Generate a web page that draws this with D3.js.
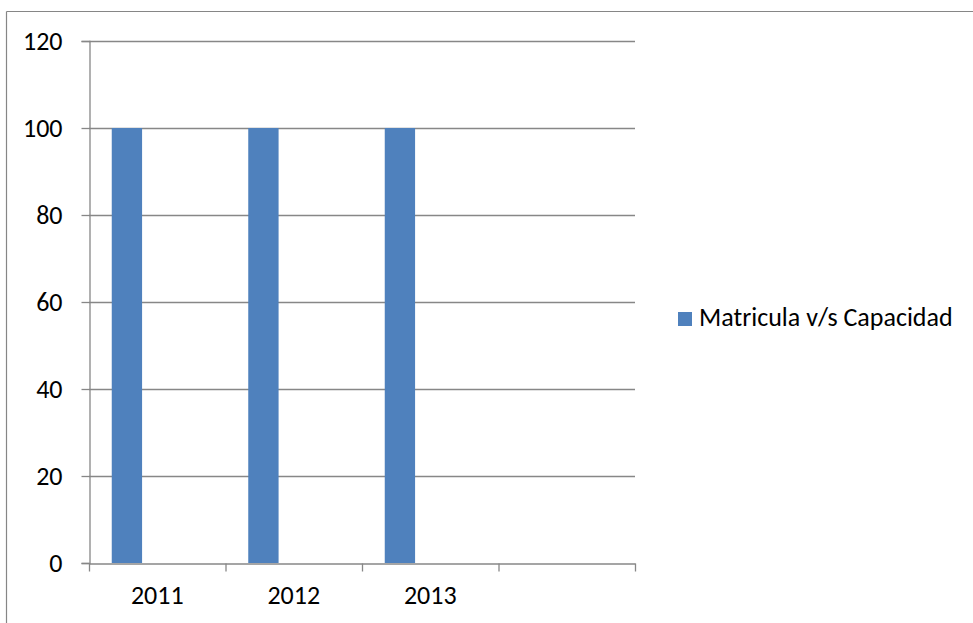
<!DOCTYPE html>
<html>
<head>
<meta charset="utf-8">
<script src="https://cdn.jsdelivr.net/npm/d3@7"></script>
<style>
  body { margin: 0; background: #fff; }
  svg { display: block; }
</style>
</head>
<body>
<div id="chart"></div>
<script>
// data
const years = ["2011", "2012", "2013", ""];
const seriesNames = ["Matricula v/s Capacidad", "s2", "s3"];
const matricula = [100, 100, 100, null];
const yTicks = [0, 20, 40, 60, 80, 100, 120];

const width = 973, height = 623;
const plotLeft = 89, plotRight = 635, plotTop = 41, plotBottom = 563;
const fontFam = "Carlito, Lato, 'Open Sans', sans-serif";
const fontSize = "26px";

const svg = d3.select("#chart")
  .append("svg")
    .attr("width", width)
    .attr("height", height);

// outer chart frame (only top and left visible)
svg.append("line")
  .attr("x1", 6.5).attr("x2", width).attr("y1", 11.5).attr("y2", 11.5)
  .attr("stroke", "#868686").attr("stroke-width", 1.2);
svg.append("line")
  .attr("x1", 6.5).attr("x2", 6.5).attr("y1", 11.5).attr("y2", height)
  .attr("stroke", "#868686").attr("stroke-width", 1.2);

let x = d3.scaleBand()
  .domain(years)
  .range([plotLeft, plotRight]);

let xSub = d3.scaleBand()
  .domain(seriesNames)
  .range([0, x.bandwidth()])
  .paddingInner(0)
  .paddingOuter(0.75);

let y = d3.scaleLinear()
  .domain([0, 120])
  .range([plotBottom, plotTop]);

// gridlines
svg.append("g")
  .selectAll("line")
  .data(yTicks.filter(d => d > 0))
  .enter()
  .append("line")
    .attr("x1", plotLeft)
    .attr("x2", plotRight)
    .attr("y1", d => Math.round(y(d)) + 0.5)
    .attr("y2", d => Math.round(y(d)) + 0.5)
    .attr("stroke", "#878787")
    .attr("stroke-width", 1.3);

// bars
const rows = years.map((yr, i) => ({ year: yr, value: matricula[i] }))
  .filter(d => d.value != null);

svg.append("g")
  .selectAll("rect")
  .data(rows)
  .enter()
  .append("rect")
    .attr("x", d => x(d.year) + xSub(seriesNames[0]))
    .attr("y", d => y(d.value))
    .attr("width", xSub.bandwidth())
    .attr("height", d => y(0) - y(d.value))
    .attr("fill", "#4f81bd");

// y axis
const yAxis = svg.append("g")
  .attr("transform", "translate(" + (plotLeft + 0.5) + ",0)")
  .call(d3.axisLeft(y).tickValues(yTicks).tickSize(8).tickPadding(19));
yAxis.select(".domain").attr("stroke", "#878787").attr("stroke-width", 1.3);
yAxis.selectAll(".tick line").attr("stroke", "#878787").attr("stroke-width", 1.3);
yAxis.selectAll(".tick text")
  .style("font-family", fontFam)
  .style("font-size", fontSize)
  .attr("fill", "#000");

// x axis
const xAxis = svg.append("g")
  .attr("transform", "translate(0," + (plotBottom + 0.5) + ")")
  .call(d3.axisBottom(x).tickSize(0).tickPadding(22));
xAxis.select(".domain").attr("stroke", "#878787").attr("stroke-width", 1.3);
xAxis.selectAll(".tick text")
  .style("font-family", fontFam)
  .style("font-size", fontSize)
  .attr("fill", "#000");

// category separator ticks
const sepX = years.map(d => x(d)).concat([x(years[years.length - 1]) + x.bandwidth()]);
xAxis.append("g")
  .selectAll("line")
  .data(sepX)
  .enter()
  .append("line")
    .attr("x1", d => d + 0.5)
    .attr("x2", d => d + 0.5)
    .attr("y1", 0)
    .attr("y2", 8)
    .attr("stroke", "#878787")
    .attr("stroke-width", 1.3);

// legend
const legend = svg.append("g")
  .attr("transform", "translate(678,312)");
legend.append("rect")
  .attr("width", 14)
  .attr("height", 14)
  .attr("fill", "#4f81bd");
legend.append("text")
  .attr("x", 21)
  .attr("y", 8)
  .style("font-family", fontFam)
  .style("font-size", fontSize)
  .style("dominant-baseline", "middle")
  .text(seriesNames[0]);
</script>
</body>
</html>
